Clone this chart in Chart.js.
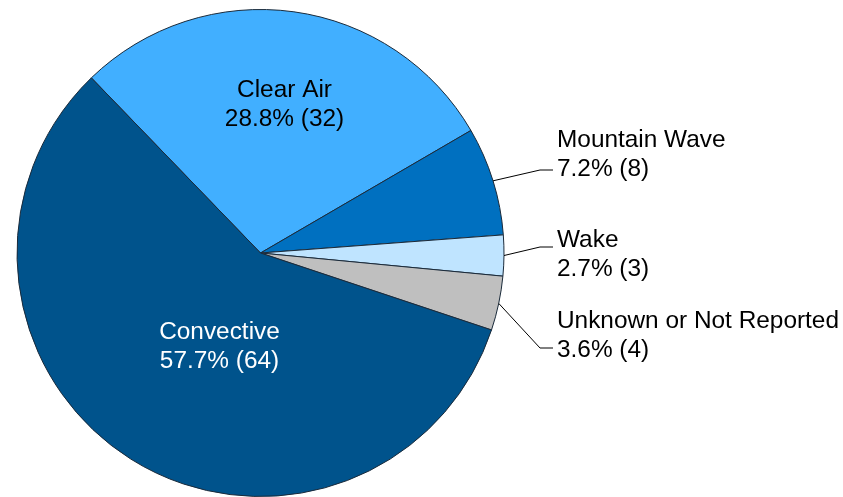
<!DOCTYPE html>
<html>
<head>
<meta charset="utf-8">
<script src="https://cdn.jsdelivr.net/npm/chart.js@4.4.1/dist/chart.umd.min.js"></script>
<style>
html,body{margin:0;padding:0;background:#fff;}
#c{display:block;}
</style>
</head>
<body>
<canvas id="c" width="843" height="497"></canvas>
<script>
// ---- data ----
const categories = ['Clear Air', 'Mountain Wave', 'Wake', 'Unknown or Not Reported', 'Convective'];
const counts = [32, 8, 3, 4, 64];
const colors = ['#41AFFF', '#0070C0', '#BFE4FF', '#BFBFBF', '#00538C'];
const textColors = ['#000000', '#000000', '#000000', '#000000', '#FFFFFF'];

// ---- label layout (annotation placement, not data) ----
const labelLayout = [
  { inside: true, dx: 24, y1: 97 },
  { inside: false, y1: 147, elbowY: 170 },
  { inside: false, y1: 247, elbowY: 247 },
  { inside: false, y1: 328, elbowY: 348 },
  { inside: true, dx: -41, y1: 339 }
];

const total = counts.reduce((a, b) => a + b, 0);
function pctText(v) { return (v / total * 100).toFixed(1) + '% (' + v + ')'; }

const labelPlugin = {
  id: 'pieLabels',
  afterDatasetsDraw(chart) {
    const ctx = chart.ctx;
    const meta = chart.getDatasetMeta(0);
    ctx.save();
    ctx.font = '24.4px "Liberation Sans", Arial, sans-serif';
    const lh = 28.5;
    meta.data.forEach((arc, i) => {
      const p = arc.getProps(['x', 'y', 'startAngle', 'endAngle', 'outerRadius'], true);
      const lay = labelLayout[i];
      const lines = [categories[i], pctText(counts[i])];
      ctx.fillStyle = textColors[i];
      ctx.textBaseline = 'alphabetic';
      if (lay.inside) {
        ctx.textAlign = 'center';
        const x = p.x + lay.dx;
        lines.forEach((t, k) => ctx.fillText(t, x, lay.y1 + k * lh));
      } else {
        const mid = (p.startAngle + p.endAngle) / 2;
        const sx = p.x + p.outerRadius * Math.cos(mid);
        const sy = p.y + p.outerRadius * Math.sin(mid);
        const ex = p.x + p.outerRadius + 36;
        const tx = p.x + p.outerRadius + 53;
        ctx.strokeStyle = '#000';
        ctx.lineWidth = 1;
        ctx.beginPath();
        ctx.moveTo(sx, sy);
        ctx.lineTo(ex, lay.elbowY);
        ctx.lineTo(tx - 4, lay.elbowY);
        ctx.stroke();
        ctx.fillStyle = '#000';
        ctx.textAlign = 'left';
        lines.forEach((t, k) => ctx.fillText(t, tx, lay.y1 + k * lh));
      }
    });
    ctx.restore();
  }
};

new Chart(document.getElementById('c'), {
  type: 'pie',
  data: {
    labels: categories,
    datasets: [{
      data: counts,
      backgroundColor: colors,
      borderColor: '#1a2a3a',
      borderWidth: 1
    }]
  },
  options: {
    responsive: false,
    animation: false,
    rotation: -44,
    layout: { padding: { left: 14, right: 336, top: 9, bottom: -2 } },
    plugins: {
      legend: { display: false },
      tooltip: { enabled: false }
    }
  },
  plugins: [labelPlugin]
});
</script>
</body>
</html>
